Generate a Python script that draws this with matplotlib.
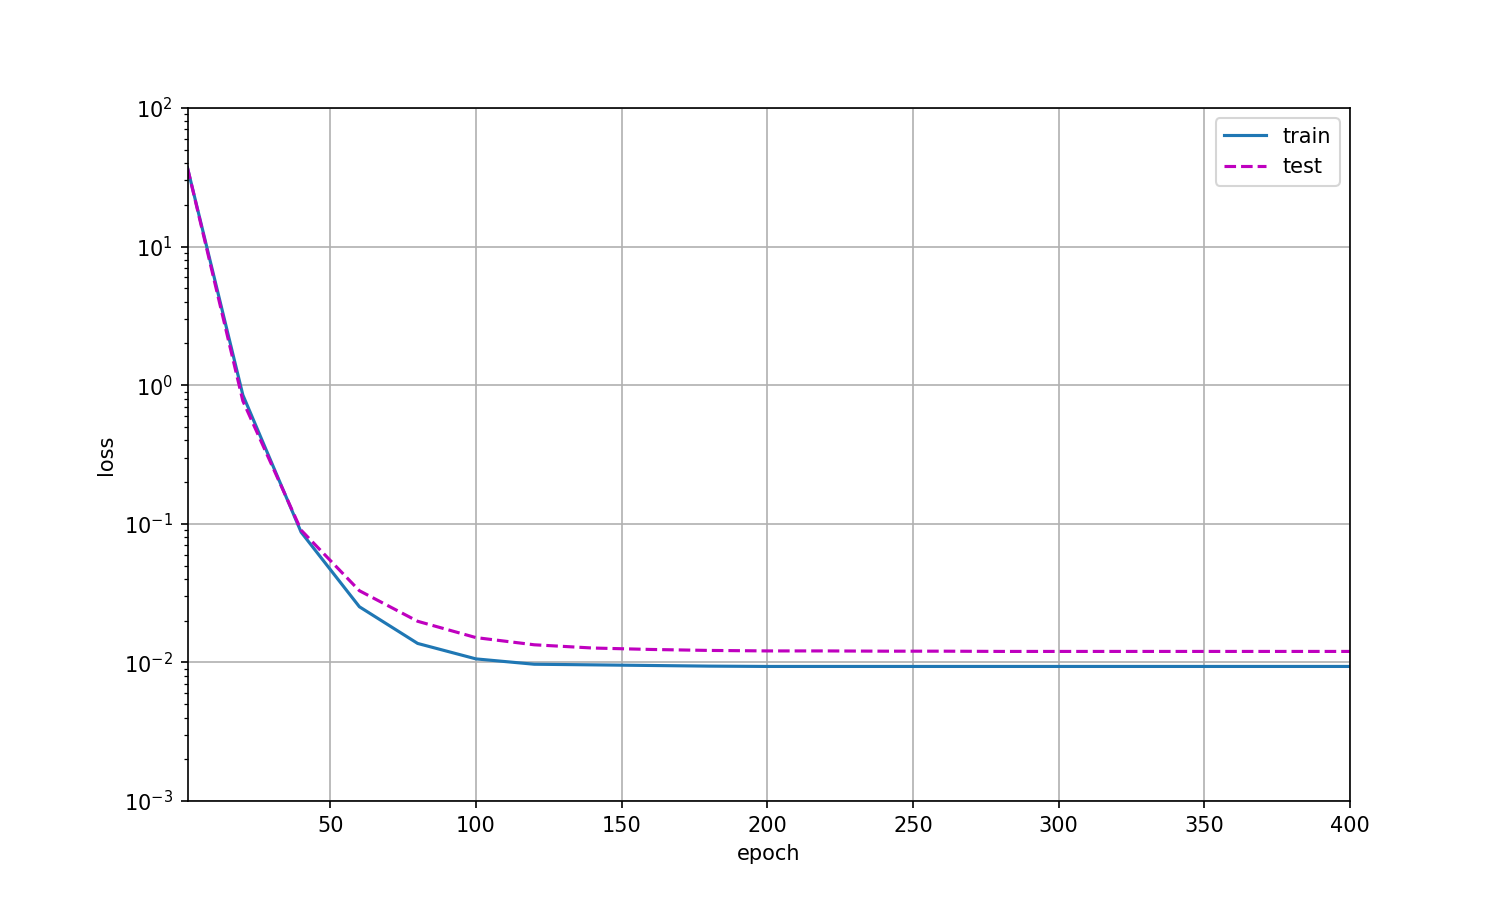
import matplotlib
matplotlib.use("Agg")
import matplotlib.pyplot as plt

# epochs at which the loss was recorded
epochs = [1] + list(range(20, 401, 20))

train_loss = [37.0, 0.85, 0.087, 0.0252, 0.0137, 0.0106, 0.0097, 0.0096, 0.0095,
              0.0094, 0.00935, 0.00935, 0.00935, 0.00935, 0.00935, 0.00935,
              0.00935, 0.00935, 0.00935, 0.00935, 0.00935]
test_loss = [37.0, 0.77, 0.09, 0.0329, 0.0198, 0.0151, 0.0134, 0.0127, 0.0124,
             0.0122, 0.0121, 0.0121, 0.01205, 0.01205, 0.0120, 0.0120,
             0.0120, 0.0120, 0.0120, 0.0120, 0.0120]

fig, ax = plt.subplots(figsize=(10, 6), dpi=150)
ax.plot(epochs, train_loss, "-", label="train")
ax.plot(epochs, test_loss, "m--", label="test")
ax.set_yscale("log")
ax.set_xlim(1, 400)
ax.set_ylim(1e-3, 1e2)
ax.set_xlabel("epoch")
ax.set_ylabel("loss")
ax.legend()
ax.grid(True)
fig.savefig("out.png")
